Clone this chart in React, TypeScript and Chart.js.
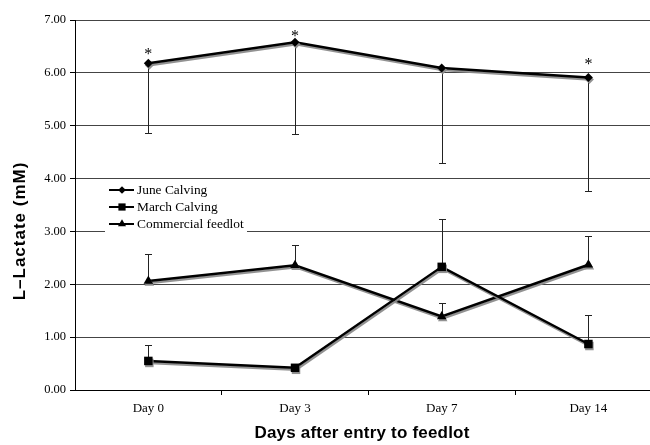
import React, { useEffect, useRef } from "react";
import { Chart, registerables } from "chart.js";
import { drawPoint } from "chart.js/helpers";

Chart.register(...registerables);

// ---- data ----
const categories = ["Day 0", "Day 3", "Day 7", "Day 14"];
const juneCalving = [6.18, 6.58, 6.09, 5.91];
const juneErr = [1.32, 1.74, 1.79, 2.14];
const marchCalving = [0.55, 0.42, 2.33, 0.87];
const marchErr = [0.3, 0.06, 0.9, 0.55];
const commercialFeedlot = [2.06, 2.36, 1.39, 2.37];
const feedlotErr = [0.51, 0.38, 0.25, 0.54];
const juneAsterisks: (number | null)[] = [6.42, 6.76, null, 6.22];
const seriesNames = ["June Calving", "March Calving", "Commercial feedlot"];
const yTitle = "L\u2013Lactate (mM)";
const xTitle = "Days after entry to feedlot";

const SERIF = "'Liberation Serif', 'Times New Roman', serif";
const SANS = "'Liberation Sans', Arial, sans-serif";

const pointStyles = ["rectRot", "rect", "triangle"] as const;
const pointRadii = [4.5, 6, 5.5];

const toXY = (arr: number[]) => arr.map((v, i) => ({ x: i, y: v }));

const shadowPlugin = {
  id: "lineShadow",
  beforeDatasetDraw(chart: any) {
    const ctx = chart.ctx;
    ctx.save();
    ctx.shadowColor = "rgba(140,140,140,0.95)";
    ctx.shadowOffsetX = 1;
    ctx.shadowOffsetY = 2;
    ctx.shadowBlur = 0;
  },
  afterDatasetDraw(chart: any) {
    chart.ctx.restore();
  },
};

const errorBarPlugin = {
  id: "errorBars",
  beforeDatasetsDraw(chart: any) {
    const ctx = chart.ctx;
    const xs = chart.scales.x;
    const ys = chart.scales.y;
    ctx.save();
    ctx.strokeStyle = "#222";
    ctx.lineWidth = 1;
    chart.data.datasets.forEach((ds: any) => {
      ds.data.forEach((p: any, i: number) => {
        const e = ds.errors[i];
        if (e == null) return;
        const x = Math.round(xs.getPixelForValue(p.x)) + 0.5;
        const y0 = ys.getPixelForValue(p.y);
        const y1 = Math.round(ys.getPixelForValue(p.y + ds.errDir * e)) + 0.5;
        ctx.beginPath();
        ctx.moveTo(x, y0);
        ctx.lineTo(x, y1);
        ctx.moveTo(x - 3.5, y1);
        ctx.lineTo(x + 3.5, y1);
        ctx.stroke();
      });
    });
    ctx.restore();
  },
};

const overlayPlugin = {
  id: "overlay",
  afterDatasetsDraw(chart: any) {
    const ctx = chart.ctx;
    const xs = chart.scales.x;
    const ys = chart.scales.y;
    ctx.save();
    // asterisks
    ctx.fillStyle = "#000";
    ctx.font = `16px ${SERIF}`;
    ctx.textAlign = "center";
    ctx.textBaseline = "alphabetic";
    juneAsterisks.forEach((v, i) => {
      if (v == null) return;
      ctx.fillText("*", xs.getPixelForValue(i), ys.getPixelForValue(v) + 8);
    });
    // legend
    ctx.fillStyle = "#fff";
    ctx.fillRect(105, 181, 142, 56);
    const rows = [190, 207, 224];
    seriesNames.forEach((name, i) => {
      const y = rows[i];
      ctx.strokeStyle = "#000";
      ctx.lineWidth = 2;
      ctx.beginPath();
      ctx.moveTo(109, y);
      ctx.lineTo(134, y);
      ctx.stroke();
      ctx.fillStyle = "#000";
      drawPoint(
        ctx,
        { pointStyle: pointStyles[i], radius: pointRadii[i] * 0.85, rotation: 0, borderWidth: 0 } as any,
        122,
        y
      );
      ctx.fillStyle = "#000";
      ctx.font = `13.4px ${SERIF}`;
      ctx.textAlign = "left";
      ctx.textBaseline = "middle";
      ctx.fillText(name, 137, y + 0.5);
    });
    ctx.restore();
  },
  afterDraw(chart: any) {
    const ctx = chart.ctx;
    ctx.save();
    ctx.fillStyle = "#000";
    ctx.textAlign = "center";
    ctx.textBaseline = "middle";
    ctx.font = `bold 17px ${SANS}`;
    (ctx as any).letterSpacing = "0.2px";
    ctx.fillText(xTitle, 362, 433);
    ctx.translate(20, 231);
    ctx.rotate(-Math.PI / 2);
    (ctx as any).letterSpacing = "1px";
    ctx.fillText(yTitle, 0, 0);
    ctx.restore();
  },
};

export default function App() {
  const ref = useRef<HTMLCanvasElement | null>(null);
  useEffect(() => {
    document.body.style.margin = "0";
    const canvas = ref.current!;
    const seriesData = [juneCalving, marchCalving, commercialFeedlot];
    const errs = [juneErr, marchErr, feedlotErr];
    const dirs = [-1, 1, 1];
    const chart = new Chart(canvas, {
      type: "line",
      data: {
        datasets: seriesData.map((arr, i) => ({
          label: seriesNames[i],
          data: toXY(arr),
          errors: errs[i],
          errDir: dirs[i],
          borderColor: "#000",
          backgroundColor: "#000",
          borderWidth: 2.5,
          pointStyle: pointStyles[i],
          pointRadius: pointRadii[i],
          pointBorderWidth: 0,
          pointBackgroundColor: "#000",
          tension: 0,
        })) as any,
      },
      options: {
        animation: false,
        responsive: false,
        devicePixelRatio: 1,
        layout: { padding: { top: 20, left: 0, right: 0, bottom: 0 } },
        plugins: { legend: { display: false }, tooltip: { enabled: false } },
        scales: {
          x: {
            type: "linear",
            min: -0.5,
            max: 3.42,
            afterBuildTicks: (scale: any) => {
              scale.ticks = [0, 0.5, 1, 1.5, 2, 2.5, 3].map((v) => ({ value: v }));
            },
            afterFit: (scale: any) => {
              scale.height = 55;
            },
            ticks: {
              autoSkip: false,
              maxRotation: 0,
              color: "#000",
              font: { family: SERIF, size: 13 },
              padding: 6,
              callback: (v: any) => (Number.isInteger(v) ? categories[v] : ""),
            },
            grid: {
              drawOnChartArea: false,
              tickLength: 5,
              tickColor: (c: any) => (c.tick && !Number.isInteger(c.tick.value) ? "#000" : "rgba(0,0,0,0)"),
            },
            border: { display: true, color: "#000", width: 1 },
          },
          y: {
            min: 0,
            max: 7,
            afterFit: (scale: any) => {
              scale.width = 75;
            },
            ticks: {
              stepSize: 1,
              color: "#000",
              font: { family: SERIF, size: 12.5 },
              padding: 4,
              callback: (v: any) => Number(v).toFixed(2),
            },
            grid: { color: "#444", lineWidth: 1, tickLength: 5, tickColor: "#000" },
            border: { display: true, color: "#000", width: 1 },
          },
        },
      },
      plugins: [errorBarPlugin, shadowPlugin, overlayPlugin],
    });
    return () => chart.destroy();
  }, []);
  return (
    <div style={{ position: "fixed", left: 0, top: 0, width: 650, height: 445, overflow: "hidden", background: "#fff" }}>
      <canvas ref={ref} width={656} height={445} style={{ display: "block" }} />
    </div>
  );
}
